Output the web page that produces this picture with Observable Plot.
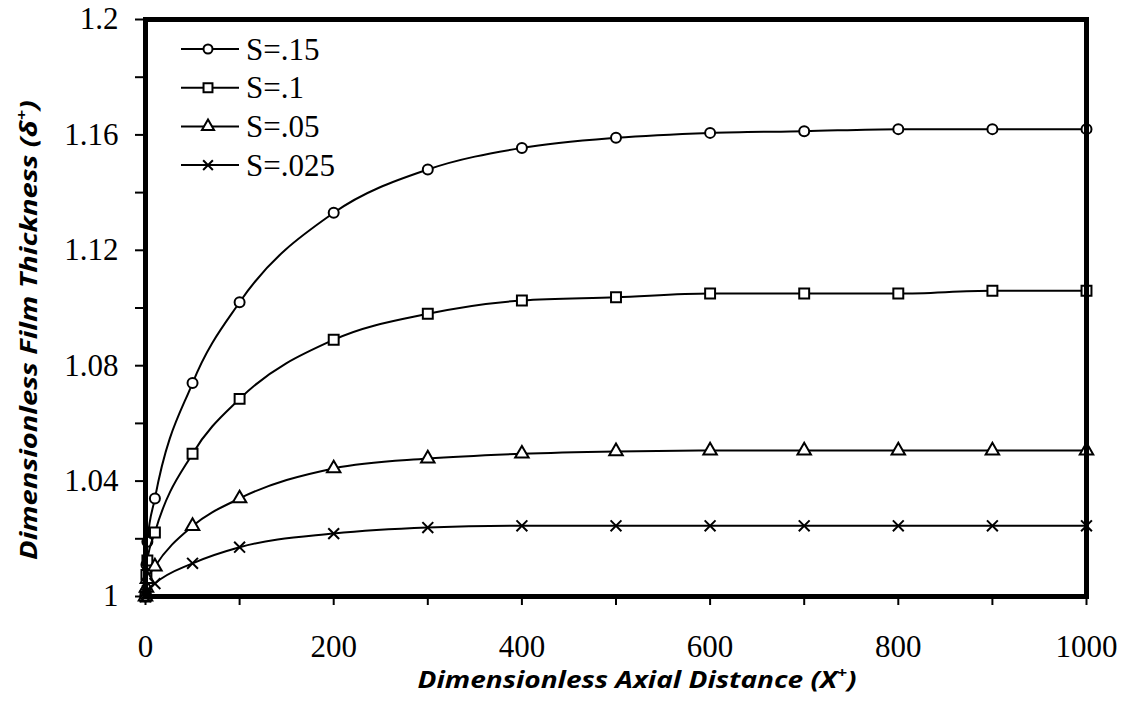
<!DOCTYPE html>
<html>
<head>
<meta charset="utf-8">
<script src="https://cdn.jsdelivr.net/npm/d3@7"></script>
<script src="https://cdn.jsdelivr.net/npm/@observablehq/plot@0.6"></script>
<style>
  body { margin: 0; background: #fff; }
  #chart { position: relative; width: 1127px; height: 704px; }
  #chart svg.legend { position: absolute; left: 0; top: 0; pointer-events: none; }
</style>
</head>
<body>
<div id="chart"></div>
<script>
// Axial positions (X+) at which the film thickness was computed
const xValues = [0, 1, 2, 10, 50, 100, 200, 300, 400, 500, 600, 700, 800, 900, 1000];

// Dimensionless film thickness (δ+) for each S
const s150 = [1.000, 1.011, 1.019, 1.034, 1.074, 1.102, 1.133, 1.148, 1.1555, 1.159, 1.1607, 1.1613, 1.162, 1.162, 1.162];
const s100 = [1.000, 1.0075, 1.0125, 1.0222, 1.0495, 1.0685, 1.089, 1.098, 1.1026, 1.1037, 1.105, 1.105, 1.105, 1.106, 1.106];
const s050 = [1.000, 1.003, 1.006, 1.0104, 1.0244, 1.034, 1.0444, 1.0478, 1.0495, 1.0503, 1.0506, 1.0506, 1.0506, 1.0506, 1.0506];
const s025 = [1.000, 1.001, 1.002, 1.0045, 1.0115, 1.0171, 1.0218, 1.0239, 1.0245, 1.0245, 1.0245, 1.0245, 1.0245, 1.0245, 1.0245];

const seriesNames = ["S=.15", "S=.1", "S=.05", "S=.025"];
const seriesSymbols = ["circle", "square", "triangle", "times"];
const seriesValues = [s150, s100, s050, s025];

// Axis ticks
const xTickValues = [0, 200, 400, 600, 800, 1000];
const xTickLabels = ["0", "200", "400", "600", "800", "1000"];
const xMinorTicks = [0, 100, 200, 300, 400, 500, 600, 700, 800, 900, 1000];
const yTickValues = [1, 1.04, 1.08, 1.12, 1.16, 1.2];
const yTickLabels = ["1", "1.04", "1.08", "1.12", "1.16", "1.2"];
const yMinorTicks = [1, 1.02, 1.04, 1.06, 1.08, 1.1, 1.12, 1.14, 1.16, 1.18, 1.2];

const W = 1127, H = 704;
const margin = {left: 145, right: 41, top: 19, bottom: 108};
const serif = "'Liberation Serif', 'Times New Roman', serif";
const tickFont = 31;

const rows = seriesValues.flatMap((vals, i) =>
  xValues.map((x, j) => ({series: seriesNames[i], x, y: vals[j]})));

const markSizes = {circle: 5, square: 5.6, triangle: 5, times: 5};

const seriesMarks = seriesNames.flatMap((name, i) => {
  const data = rows.filter(d => d.series === name);
  return [
    Plot.line(data, {x: "x", y: "y", curve: "monotone-x", stroke: "black", strokeWidth: 2}),
    Plot.dot(data, {x: "x", y: "y", symbol: () => seriesSymbols[i], r: markSizes[seriesSymbols[i]],
      stroke: "black", fill: seriesSymbols[i] === "times" ? "none" : "white", strokeWidth: 2})
  ];
});

const chart = Plot.plot({
  width: W,
  height: H,
  marginLeft: margin.left,
  marginRight: margin.right,
  marginTop: margin.top,
  marginBottom: margin.bottom,
  style: {background: "white", color: "black", fontFamily: serif},
  x: {domain: [0, 1000]},
  y: {domain: [1, 1.2]},
  symbol: {domain: seriesSymbols, range: seriesSymbols},
  marks: [
    Plot.axisY(yMinorTicks, {tickSize: 10, tickFormat: () => "", strokeWidth: 2, label: null}),
    Plot.axisY(yTickValues, {tickSize: 0, tickPadding: 27, fontSize: tickFont, fontFamily: serif,
      tickFormat: d => yTickLabels[yTickValues.indexOf(d)], label: null}),
    Plot.axisX(xMinorTicks, {tickSize: 9, tickFormat: () => "", strokeWidth: 2, label: null}),
    Plot.axisX(xTickValues, {tickSize: 0, tickPadding: 38, fontSize: tickFont, fontFamily: serif,
      tickFormat: d => xTickLabels[xTickValues.indexOf(d)], label: null}),
    ...seriesMarks,
    Plot.frame({stroke: "black", strokeWidth: 5})
  ]
});

const host = document.getElementById("chart");
host.appendChild(chart);

// Axis titles with superscripts
const svg = d3.select(chart);
const titleFont = "'Open Sans', sans-serif";
function axisTitle(text, transform, length) {
  const t = svg.append("text")
    .attr("transform", transform)
    .attr("text-anchor", "middle")
    .attr("textLength", length).attr("lengthAdjust", "spacingAndGlyphs")
    .style("font-family", titleFont).style("font-weight", "bold").style("font-style", "italic")
    .style("font-size", "24px").attr("fill", "black");
  t.append("tspan").text(text);
  t.append("tspan").text("+").attr("dy", -10).style("font-size", "15px");
  t.append("tspan").text(")").attr("dy", 10);
  return t;
}
axisTitle("Dimensionless Axial Distance (X", "translate(637,688)", 439);
axisTitle("Dimensionless Film Thickness (δ", "translate(37,330) rotate(-90)", 460);

// Legend (top-left inside the frame)
const legend = d3.select(host).append("svg")
  .attr("class", "legend").attr("width", W).attr("height", H);
const symbolTypes = {circle: d3.symbolCircle, square: d3.symbolSquare, triangle: d3.symbolTriangle, times: d3.symbolTimes};
seriesNames.forEach((name, i) => {
  const y = 49 + i * 38.7;
  const g = legend.append("g");
  g.append("line").attr("x1", 181).attr("x2", 239).attr("y1", y).attr("y2", y)
    .attr("stroke", "black").attr("stroke-width", 2);
  const sym = seriesSymbols[i];
  const r = markSizes[sym] * 0.9;
  g.append("path")
    .attr("d", d3.symbol(symbolTypes[sym], Math.PI * r * r)())
    .attr("transform", `translate(208,${y})`)
    .attr("fill", sym === "times" ? "none" : "white")
    .attr("stroke", "black").attr("stroke-width", 2);
  g.append("text").attr("x", 246).attr("y", y).attr("dy", "0.34em")
    .style("font-family", serif).style("font-size", "31px").attr("fill", "black")
    .text(name);
});
</script>
</body>
</html>
